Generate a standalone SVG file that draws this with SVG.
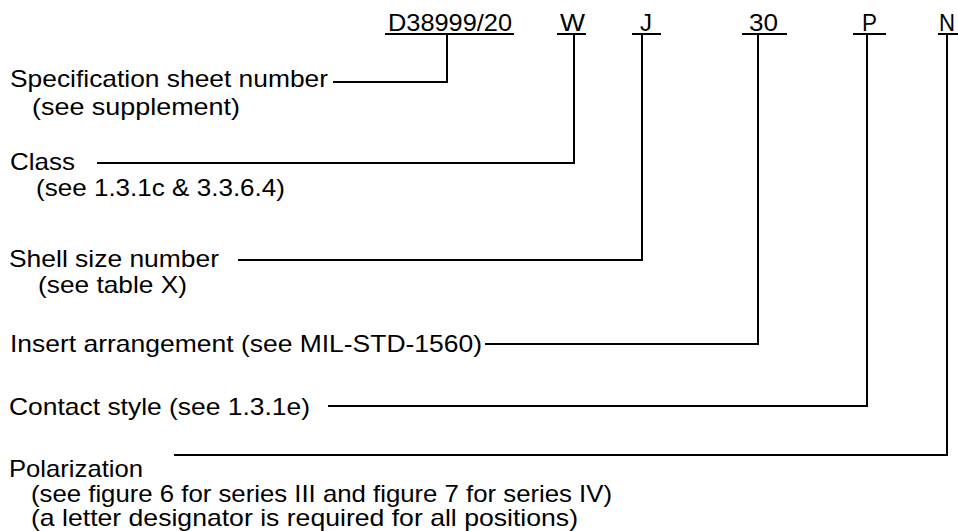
<svg xmlns="http://www.w3.org/2000/svg" width="958" height="531" viewBox="0 0 958 531">
<style>
text{font-family:"Liberation Sans",Arial,sans-serif;font-size:24px;fill:#000}
.ln{fill:none;stroke:#000;stroke-width:2}
</style>
<rect width="958" height="531" fill="#fff"/>
<g id="codes">
<g id="code-spec"><text x="388" y="31" textLength="124" lengthAdjust="spacingAndGlyphs">D38999/20</text><line class="ln" x1="385" y1="34" x2="514" y2="34"/></g>
<g id="code-class"><text x="560" y="31" textLength="25" lengthAdjust="spacingAndGlyphs">W</text><line class="ln" x1="557" y1="34" x2="586" y2="34"/></g>
<g id="code-shell"><text x="640" y="31" textLength="12" lengthAdjust="spacingAndGlyphs">J</text><line class="ln" x1="632" y1="34" x2="661" y2="34"/></g>
<g id="code-insert"><text x="749" y="31" textLength="29" lengthAdjust="spacingAndGlyphs">30</text><line class="ln" x1="742" y1="34" x2="787" y2="34"/></g>
<g id="code-contact"><text x="862" y="31" textLength="15" lengthAdjust="spacingAndGlyphs">P</text><line class="ln" x1="853" y1="34" x2="886" y2="34"/></g>
<g id="code-polar"><text x="939" y="31" textLength="16" lengthAdjust="spacingAndGlyphs">N</text><line class="ln" x1="938" y1="34" x2="958" y2="34"/></g>
</g>
<g id="label-spec"><text x="10" y="87" textLength="318" lengthAdjust="spacingAndGlyphs">Specification sheet number</text><text x="32" y="115" textLength="208" lengthAdjust="spacingAndGlyphs">(see supplement)</text></g>
<g id="label-class"><text x="10" y="170" textLength="65" lengthAdjust="spacingAndGlyphs">Class</text><text x="36" y="196" textLength="249" lengthAdjust="spacingAndGlyphs">(see 1.3.1c &amp; 3.3.6.4)</text></g>
<g id="label-shell"><text x="9" y="267" textLength="210" lengthAdjust="spacingAndGlyphs">Shell size number</text><text x="38" y="293" textLength="149" lengthAdjust="spacingAndGlyphs">(see table X)</text></g>
<g id="label-insert"><text x="10" y="352" textLength="472" lengthAdjust="spacingAndGlyphs">Insert arrangement (see MIL-STD-1560)</text></g>
<g id="label-contact"><text x="9" y="415" textLength="301" lengthAdjust="spacingAndGlyphs">Contact style (see 1.3.1e)</text></g>
<g id="label-polar"><text x="9" y="477" textLength="134" lengthAdjust="spacingAndGlyphs">Polarization</text><text x="31" y="502" textLength="581" lengthAdjust="spacingAndGlyphs">(see figure 6 for series III and figure 7 for series IV)</text><text x="31" y="526" textLength="547" lengthAdjust="spacingAndGlyphs">(a letter designator is required for all positions)</text></g>
<g id="connectors">
<polyline class="ln" points="333,82 447,82 447,34"/>
<polyline class="ln" points="97,163 574,163 574,34"/>
<polyline class="ln" points="238,260 642,260 642,34"/>
<polyline class="ln" points="485,344 758,344 758,34"/>
<polyline class="ln" points="328,406 867,406 867,34"/>
<polyline class="ln" points="174,455 947,455 947,34"/>
</g>
</svg>
